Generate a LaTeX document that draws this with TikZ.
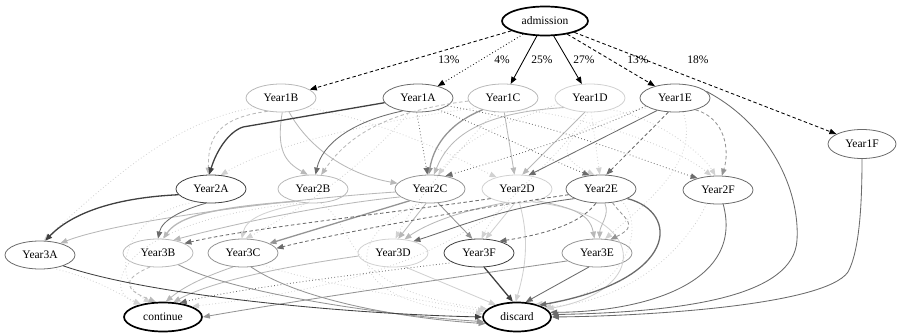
\documentclass[tikz,border=0pt]{standalone}
\usepackage{fontspec}
\setmainfont{Liberation Serif}
\usetikzlibrary{shapes.geometric,arrows.meta}

\definecolor{gA}{gray}{0.25}
\definecolor{gB}{gray}{0.42}
\definecolor{gC}{gray}{0.58}
\definecolor{gD}{gray}{0.72}
\definecolor{gE}{gray}{0.82}

\begin{document}
\begin{tikzpicture}[x=1pt,y=-1pt,
  font=\fontsize{11.5}{13}\selectfont,
  state/.style={ellipse, draw, line width=0.8pt, minimum width=70pt, minimum height=28pt, inner sep=0pt},
  term/.style={ellipse, draw=black, line width=1.7pt, minimum height=29pt, inner sep=0pt},
  pct/.style={inner sep=1pt},
  link/.style={-{Triangle[length=7pt,width=5.5pt]}, line width=0.85pt},
  dots/.style={dash pattern=on 0.8pt off 2.4pt},
  dashes/.style={dash pattern=on 3.5pt off 2.5pt},
  heavy/.style={line width=1.3pt},
  kA/.style={link, draw=gA},
  kB/.style={link, draw=gB},
  kC/.style={link, draw=gC},
  kD/.style={link, draw=gD},
  kE/.style={link, draw=gE},
  kK/.style={link, draw=black}
]
\useasboundingbox (0,0) rectangle (899,334);

% ---- states ----
\node[term, minimum width=86pt] (adm) at (545,21) {admission};

\node[state, draw=gD] (y1b) at (281,98) {Year1B};
\node[state, draw=gB] (y1a) at (418,98) {Year1A};
\node[state, draw=gD] (y1c) at (503,98) {Year1C};
\node[state, draw=gE] (y1d) at (590,98) {Year1D};
\node[state, draw=gB] (y1e) at (675,98) {Year1E};
\node[state, draw=gB, minimum width=68pt, minimum height=29pt] (y1f) at (862,144) {Year1F};

\node[state, draw=gA] (y2a) at (211,189) {Year2A};
\node[state, draw=gD] (y2b) at (313,189) {Year2B};
\node[state, draw=gC] (y2c) at (430,189) {Year2C};
\node[state, draw=gE] (y2d) at (517,189) {Year2D};
\node[state, draw=gB] (y2e) at (601,189) {Year2E};
\node[state, draw=gB] (y2f) at (718,190) {Year2F};

\node[state, draw=gB] (y3a) at (40,255) {Year3A};
\node[state, draw=gD] (y3b) at (158,253) {Year3B};
\node[state, draw=gC] (y3c) at (243,253) {Year3C};
\node[state, draw=gE] (y3d) at (393,253) {Year3D};
\node[state, draw=gA] (y3f) at (479,253) {Year3F};
\node[state, draw=gC] (y3e) at (597,253) {Year3E};

\node[term, minimum width=78pt] (cont) at (163,317) {continue};
\node[term, minimum width=68pt] (disc) at (517,317) {discard};

% ---- admission transitions ----
\draw[kK, dashes] (adm) -- (y1b);
\draw[kK, dots] (adm) -- (y1a);
\draw[kK] (adm) -- (y1c);
\draw[kK] (adm) -- (y1d);
\draw[kK, dashes] (adm) -- (y1e);
\draw[kK, dashes] (adm) -- (y1f);
\node[pct] (p1) at (449,60) {13\%};
\node[pct] (p2) at (502,60) {4\%};
\node[pct] (p3) at (542,60) {25\%};
\node[pct] (p4) at (584,60) {27\%};
\node[pct] (p5) at (638,60) {13\%};
\node[pct] (p6) at (698,60) {18\%};

% ---- faint background transitions ----
\draw[kE, dots] (y1b.340) .. controls (400,125) and (470,165) .. (y2d.150);
\draw[kE, dots] (y1c.200) .. controls (400,118) and (280,140) .. (y2a.55);
\draw[kE, dots] (y1c.330) .. controls (600,120) and (680,150) .. (y2f.115);
\draw[kE, dots] (y1d.330) .. controls (650,115) and (700,150) .. (y2f.100);
\draw[kE, dots] (y1d.275) -- (y2e.95);
\draw[kE, dots] (y1d.190) .. controls (520,120) and (470,130) .. (y2c.60);
\draw[kE, dots] (y1e.200) .. controls (580,120) and (540,150) .. (y2e.115);
\draw[kE, dots] (y1b.200) .. controls (180,120) and (120,170) .. (y3a.75);
\draw[kE, dots] (y1a.240) .. controls (360,170) and (300,210) .. (y3c.80);
\draw[kE, dots] (y1c.240) .. controls (440,170) and (410,210) .. (y3d.80);
\draw[kE, dots] (y1d.260) .. controls (560,160) and (500,200) .. (y3f.80);
\draw[kE, dots] (y1e.300) .. controls (700,160) and (650,200) .. (y3e.60);
\draw[kE, dots] (y2a.220) .. controls (120,215) and (110,280) .. (cont.130);
\draw[kE, dots] (y2b.235) .. controls (120,220) and (100,290) .. (cont.150);
\draw[kE, dots] (y2c.240) .. controls (350,230) and (330,300) .. (disc.175);
\draw[kE, dots] (y2b.300) .. controls (360,230) and (340,290) .. (disc.165);
\draw[kE, dots] (y2f.230) .. controls (690,240) and (640,300) .. (disc.20);
\draw[kE, dots] (y2e.330) .. controls (650,230) and (620,300) .. (disc.35);
\draw[kE, dots] (y2d.255) .. controls (460,230) and (420,280) .. (cont.20);
\draw[kE, dots] (y3c.330) .. controls (300,280) and (420,300) .. (disc.170);
\draw[kE] (y2d.320) .. controls (650,215) and (650,290) .. (disc.15);
\draw[kE] (y2d.280) .. controls (530,240) and (525,270) .. (disc.95);
\draw[kE] (y3d.310) -- (disc.150);
\draw[kE] (y2d.260) -- (y3f.65);

% ---- first to second year ----
\draw[kD, dashes] (y1b.225) .. controls (215,118) and (208,140) .. (y2a.100);
\draw[kD] (y1b.275) .. controls (276,150) and (285,162) .. (y2b.110);
\draw[kD] (y1b.300) .. controls (310,150) and (350,175) .. (y2c.170);
\draw[kD, dashes] (y1c.185) .. controls (380,112) and (345,140) .. (y2b.60);
\draw[kD] (y1c.275) -- (y2d.100);
\draw[kD] (y1d.200) .. controls (475,113) and (448,140) .. (y2c.75);
\draw[kD] (y1d.250) -- (y2d.70);
\draw[kC, heavy] (y1c.210) .. controls (445,125) and (433,150) .. (y2c.95);
\draw[kB, dots] (y1a.265) -- (y2c.100);
\draw[kB, dots] (y1a.330) .. controls (480,125) and (550,160) .. (y2e.130);
\draw[kB, dots] (y1a.345) .. controls (560,125) and (640,160) .. (y2f.150);
\draw[kB, dots] (y1e.195) .. controls (600,130) and (500,160) .. (y2c.40);
\draw[kB] (y1a.220) .. controls (350,122) and (322,145) .. (y2b.80);
\draw[kB] (y1e.215) -- (y2d.50);
\draw[kB, dashes] (y1e.245) -- (y2e.70);
\draw[kC, dashes] (y1e.330) .. controls (725,118) and (730,150) .. (y2f.75);
\draw[kA, heavy] (y1a.188) -- (243,127) .. controls (228,132) and (216,152) .. (y2a.97);

% ---- second to third year ----
\draw[kD] (y2c.185) .. controls (300,198) and (120,220) .. (y3a.30);
\draw[kD] (y2c.195) .. controls (320,205) and (230,225) .. (y3b.40);
\draw[kE] (y2b.250) .. controls (262,210) and (246,220) .. (y3c.95);
\draw[kD, heavy] (y2b.215) .. controls (200,208) and (176,220) .. (y3b.70);
\draw[kD] (y2c.255) -- (y3d.70);
\draw[kD] (y2d.230) .. controls (455,212) and (425,225) .. (y3d.50);
\draw[kD] (y2d.330) .. controls (575,208) and (590,215) .. (y3e.100);
\draw[kD] (y2e.285) .. controls (610,215) and (600,225) .. (y3e.80);
\draw[kC, dashes] (y2e.310) .. controls (625,220) and (640,225) .. (y3e.45);
\draw[kC] (y2c.300) -- (y3f.115);
\draw[kC, heavy] (y2c.210) -- (y3c.20);
\draw[kB, dashes] (y2d.200) .. controls (400,212) and (250,228) .. (y3b.20);
\draw[kB, dashes] (y2e.190) .. controls (450,212) and (330,235) .. (y3c.8);
\draw[kB] (y2e.200) .. controls (500,208) and (450,230) .. (y3d.30);
\draw[kB, dashes] (y2e.250) .. controls (580,225) and (540,235) .. (y3f.30);
\draw[kB] (y2a.250) .. controls (182,210) and (162,220) .. (y3b.90);
\draw[kA, heavy] (y2a.190) .. controls (110,198) and (70,215) .. (y3a.70);

% ---- into continue ----
\draw[kE, dots] (y3a.315) .. controls (100,280) and (120,295) .. (cont.150);
\draw[kD, dashes] (y3b.240) .. controls (120,280) and (125,290) .. (cont.115);
\draw[kD] (y3c.235) .. controls (195,280) and (180,290) .. (cont.80);
\draw[kD] (y3d.185) .. controls (260,270) and (205,285) .. (cont.55);
\draw[kB, dots] (y3f.200) .. controls (350,275) and (230,290) .. (cont.40);
\draw[kC] (y3e.195) .. controls (450,278) and (300,300) .. (cont.east);

% ---- into discard ----
\draw[kC] (y3b.330) .. controls (230,292) and (380,315) .. (disc.188);
\draw[kC] (y3c.300) .. controls (300,300) and (400,318) .. (disc.192);
\draw[kB] (y3e.240) -- (disc.60);
\draw[kA, heavy] (y3f.290) -- (disc.105);
\draw[kA] (y3a.335) .. controls (150,296) and (350,314) .. (disc.west);
\draw[kB, heavy] (y2e.340) .. controls (680,212) and (680,280) .. (disc.28);
\draw[kB] (y2f.290) .. controls (745,285) and (640,312) .. (disc.8);
\draw[kB] (y1e.12) .. controls (770,125) and (800,190) .. (797,240) .. controls (794,295) and (690,312) .. (disc.4);
\draw[kB] (y1f.south) .. controls (862,200) and (860,250) .. (848,272) .. controls (825,305) and (650,316) .. (disc.east);
\end{tikzpicture}
\end{document}
